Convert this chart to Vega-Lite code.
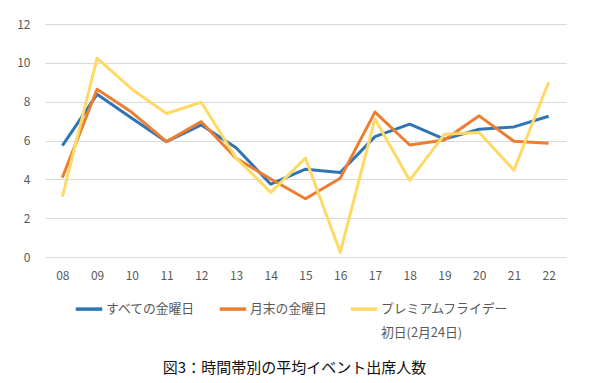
{
  "$schema": "https://vega.github.io/schema/vega-lite/v6.json",
  "width": 521,
  "height": 233,
  "autosize": {"type": "none"},
  "padding": {"left": 45, "top": 24, "right": 25, "bottom": 126},
  "background": "white",
  "title": {
    "text": "図3：時間帯別の平均イベント出席人数",
    "orient": "bottom",
    "anchor": "middle",
    "font": "Noto Sans CJK JP",
    "fontSize": 15,
    "fontWeight": "normal",
    "color": "#111111",
    "offset": 21,
    "dx": -11
  },
  "data": {
    "values": [
      {"hour": "08", "series": "すべての金曜日", "value": 5.74},
      {"hour": "09", "series": "すべての金曜日", "value": 8.38},
      {"hour": "10", "series": "すべての金曜日", "value": 7.15},
      {"hour": "11", "series": "すべての金曜日", "value": 5.94},
      {"hour": "12", "series": "すべての金曜日", "value": 6.8},
      {"hour": "13", "series": "すべての金曜日", "value": 5.63},
      {"hour": "14", "series": "すべての金曜日", "value": 3.75},
      {"hour": "15", "series": "すべての金曜日", "value": 4.52},
      {"hour": "16", "series": "すべての金曜日", "value": 4.35},
      {"hour": "17", "series": "すべての金曜日", "value": 6.2},
      {"hour": "18", "series": "すべての金曜日", "value": 6.84},
      {"hour": "19", "series": "すべての金曜日", "value": 6.07},
      {"hour": "20", "series": "すべての金曜日", "value": 6.58},
      {"hour": "21", "series": "すべての金曜日", "value": 6.7},
      {"hour": "22", "series": "すべての金曜日", "value": 7.25},
      {"hour": "08", "series": "月末の金曜日", "value": 4.09},
      {"hour": "09", "series": "月末の金曜日", "value": 8.64},
      {"hour": "10", "series": "月末の金曜日", "value": 7.45},
      {"hour": "11", "series": "月末の金曜日", "value": 5.94},
      {"hour": "12", "series": "月末の金曜日", "value": 6.97},
      {"hour": "13", "series": "月末の金曜日", "value": 5.09},
      {"hour": "14", "series": "月末の金曜日", "value": 4.02},
      {"hour": "15", "series": "月末の金曜日", "value": 3.0},
      {"hour": "16", "series": "月末の金曜日", "value": 4.06},
      {"hour": "17", "series": "月末の金曜日", "value": 7.46},
      {"hour": "18", "series": "月末の金曜日", "value": 5.77},
      {"hour": "19", "series": "月末の金曜日", "value": 6.03},
      {"hour": "20", "series": "月末の金曜日", "value": 7.27},
      {"hour": "21", "series": "月末の金曜日", "value": 5.96},
      {"hour": "22", "series": "月末の金曜日", "value": 5.86},
      {"hour": "08", "series": "プレミアムフライデー 初日(2月24日)", "value": 3.11},
      {"hour": "09", "series": "プレミアムフライデー 初日(2月24日)", "value": 10.24},
      {"hour": "10", "series": "プレミアムフライデー 初日(2月24日)", "value": 8.64},
      {"hour": "11", "series": "プレミアムフライデー 初日(2月24日)", "value": 7.39},
      {"hour": "12", "series": "プレミアムフライデー 初日(2月24日)", "value": 7.97},
      {"hour": "13", "series": "プレミアムフライデー 初日(2月24日)", "value": 5.1},
      {"hour": "14", "series": "プレミアムフライデー 初日(2月24日)", "value": 3.33},
      {"hour": "15", "series": "プレミアムフライデー 初日(2月24日)", "value": 5.09},
      {"hour": "16", "series": "プレミアムフライデー 初日(2月24日)", "value": 0.24},
      {"hour": "17", "series": "プレミアムフライデー 初日(2月24日)", "value": 7.11},
      {"hour": "18", "series": "プレミアムフライデー 初日(2月24日)", "value": 3.95},
      {"hour": "19", "series": "プレミアムフライデー 初日(2月24日)", "value": 6.32},
      {"hour": "20", "series": "プレミアムフライデー 初日(2月24日)", "value": 6.41},
      {"hour": "21", "series": "プレミアムフライデー 初日(2月24日)", "value": 4.47},
      {"hour": "22", "series": "プレミアムフライデー 初日(2月24日)", "value": 9.0}
    ]
  },
  "mark": {"type": "line", "strokeWidth": 3, "strokeJoin": "round"},
  "encoding": {
    "x": {
      "field": "hour",
      "type": "ordinal",
      "scale": {"type": "point", "padding": 0.5},
      "axis": {
        "title": null,
        "labelAngle": 0,
        "domain": false,
        "ticks": false,
        "grid": false,
        "labelPadding": 13,
        "labelFont": "Noto Sans CJK JP",
        "labelFontSize": 12,
        "labelColor": "#595959"
      }
    },
    "y": {
      "field": "value",
      "type": "quantitative",
      "scale": {"domain": [0, 12], "nice": false},
      "axis": {
        "title": null,
        "values": [0, 2, 4, 6, 8, 10, 12],
        "domain": false,
        "ticks": false,
        "gridColor": "#d9d9d9",
        "gridWidth": 1,
        "labelPadding": 15,
        "labelFont": "Noto Sans CJK JP",
        "labelFontSize": 12,
        "labelColor": "#595959"
      }
    },
    "color": {
      "field": "series",
      "type": "nominal",
      "scale": {
        "domain": ["すべての金曜日", "月末の金曜日", "プレミアムフライデー 初日(2月24日)"],
        "range": ["#2e75b6", "#ed7d31", "#ffd966"]
      },
      "legend": {
        "title": null,
        "orient": "none",
        "direction": "horizontal",
        "legendX": 29,
        "legendY": 270,
        "padding": 0,
        "symbolType": "stroke",
        "symbolSize": 700,
        "symbolStrokeWidth": 3.5,
        "columnPadding": 16,
        "labelOffset": 2,
        "labelFont": "Noto Sans CJK JP",
        "labelFontSize": 12.8,
        "labelColor": "#595959",
        "labelLimit": 0,
        "labelExpr": "indexof(datum.label, ' ') >= 0 ? split(datum.label, ' ') : [datum.label, '']",
        "encoding": {
          "labels": {
            "lineHeight": {"value": 24}
          }
        }
      }
    }
  },
  "config": {
    "view": {"stroke": null},
    "axis": {"gridColor": "#d9d9d9"}
  }
}
